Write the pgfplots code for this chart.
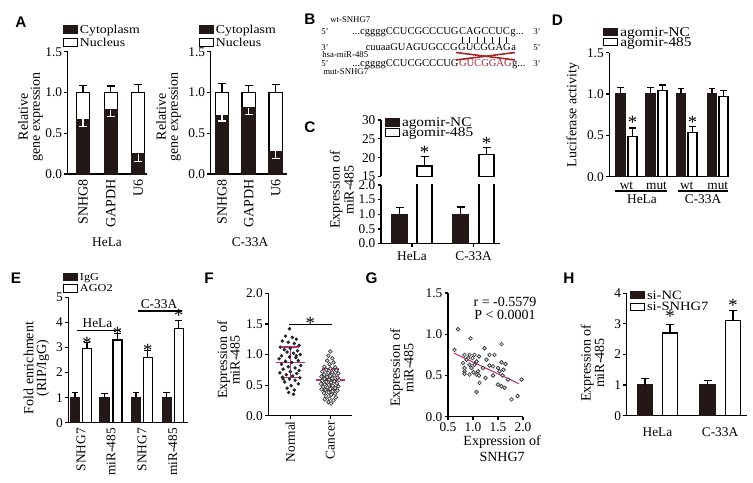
\documentclass[border=0pt]{standalone}
\usepackage{fontspec}
\setmainfont{Liberation Serif}
\newfontfamily\panelfont{Liberation Sans}
\newfontfamily\legfont[FakeStretch=1.15]{Liberation Serif}
\usepackage{pgfplots}
\pgfplotsset{compat=1.18}
\usetikzlibrary{calc}
\newcommand\sz[1]{\fontsize{#1}{#1}\selectfont}
\definecolor{barblk}{HTML}{231815}
\definecolor{mag}{HTML}{B8307A}
\definecolor{dred}{HTML}{A0282A}
\pgfplotsset{
  base/.style={
    scale only axis, enlargelimits=false, clip=false, anchor=south west,
    axis x line*=bottom, axis y line*=left,
    axis line style={line width=0.9pt, black},
    every tick/.style={line width=0.9pt, black},
    tick align=outside, major tick length=2.5pt,
    tick label style={font=\sz{10}, inner sep=1.5pt},
    /pgf/number format/assume math mode=true,
    legend cell align=left,
    legend image code/.code={\draw[line width=0.6pt,##1] (0pt,-2.75pt) rectangle (10.5pt,2.75pt); \path (12pt,0pt);},
  },
  yone/.style={yticklabel style={/pgf/number format/.cd, fixed, fixed zerofill, precision=1}},
  xone/.style={xticklabel style={/pgf/number format/.cd, fixed, fixed zerofill, precision=1}},
  leg/.style n args={5}{legend style={at={(#1,#2)}, anchor=north west, draw=none, fill=none, inner sep=0pt, outer sep=0pt, row sep=0pt, font=\legfont\sz{#3}, nodes={inner sep=0pt, outer sep=0pt, text height=#4, text depth=#5}}},
  wbar/.style={ybar, bar shift=0pt, fill=white, draw=black, line width=0.9pt},
  bbar/.style={ybar, bar shift=0pt, fill=barblk, draw=barblk, line width=0.9pt},
  ep/.style={error bars/y dir=plus, error bars/y explicit, error bars/error bar style={line width=0.9pt, black}, error bars/error mark options={line width=0.9pt, black, mark size=#1, rotate=90}},
  ep/.default=3pt,
  em/.style={error bars/y dir=minus, error bars/y explicit, error bars/error bar style={line width=0.9pt, white}, error bars/error mark options={line width=0.9pt, white, mark size=#1, rotate=90}},
  em/.default=3pt,
}
\tikzset{ast/.style={font=\sz{14}, inner sep=0pt, yshift=-3pt},
  seq/.style={font=\sz{7.9}, inner sep=0pt},
  sml/.style={font=\sz{6.6}, inner sep=0pt},
  plab/.style={font=\panelfont\bfseries\sz{11.5}}}
\begin{document}
\begin{tikzpicture}
\path[use as bounding box] (0,0) rectangle (564.75pt,361.5pt);

% ---------- A left (HeLa)
\begin{axis}[base, yone, width=59.475pt, height=91.725pt, at={(50.775pt,231pt)},
  xmin=67.7, xmax=147, ymin=0, ymax=1.5, ytick={0,0.5,1,1.5},
  xtick={83,110.7,138.3}, xticklabels={SNHG8,GAPDH,U6}, x tick style={draw=none},
  xticklabel style={rotate=90, anchor=east, font=\sz{10.5}},
  ylabel={Relative\\gene expression}, ylabel style={align=center, font=\fontsize{10.5}{9}\selectfont, at={(axis description cs:-0.469,0.466)}, anchor=center},
  xlabel={HeLa}, xlabel style={font=\sz{10}, at={(axis description cs:0.496,-0.56)}, anchor=center},
  leg={-0.0593}{1.2347}{9}{7.855pt}{1.895pt}, reverse legend, bar width=13]
\addplot[wbar, ep] coordinates {(83,1) +- (0,0.09) (110.7,1) +- (0,0.08) (138.3,1) +- (0,0.10)};
\addlegendentry{Nucleus}
\addplot[bbar, em] coordinates {(83,0.67) +- (0,0.09) (110.7,0.79) +- (0,0.08) (138.3,0.25) +- (0,0.10)};
\addlegendentry{Cytoplasm}
\end{axis}

% ---------- A right (C-33A)
\begin{axis}[base, yone, width=57pt, height=91.725pt, at={(158.025pt,231pt)},
  xmin=210.7, xmax=286.7, ymin=0, ymax=1.5, ytick={0,0.5,1,1.5},
  xtick={222,248.7,275.7}, xticklabels={SNHG8,GAPDH,U6}, x tick style={draw=none},
  xticklabel style={rotate=90, anchor=east, font=\sz{10.5}},
  ylabel={Relative\\gene expression}, ylabel style={align=center, font=\fontsize{10.5}{9}\selectfont, at={(axis description cs:-0.555,0.466)}, anchor=center},
  xlabel={C-33A}, xlabel style={font=\sz{10}, at={(axis description cs:0.517,-0.56)}, anchor=center},
  leg={-0.154}{1.2347}{9}{7.855pt}{1.895pt}, reverse legend, bar width=13.5]
\addplot[wbar, ep] coordinates {(222,1) +- (0,0.11) (248.7,1) +- (0,0.09) (275.7,1) +- (0,0.10)};
\addlegendentry{Nucleus}
\addplot[bbar, em] coordinates {(222,0.72) +- (0,0.07) (248.7,0.81) +- (0,0.08) (275.7,0.28) +- (0,0.09)};
\addlegendentry{Cytoplasm}
\end{axis}

% ---------- C upper segment
\begin{axis}[base, width=89.25pt, height=42.375pt, at={(285.75pt,229.125pt)},
  xmin=381, xmax=500, ymin=15, ymax=30, ytick={15,20,25,30}, axis x line=none,
  clip=true, clip mode=individual, bar width=15,
  leg={0.0336}{1.048}{10}{7.06pt}{0.44pt}]
\addlegendimage{bbar}\addlegendentry{agomir-NC}
\addlegendimage{wbar}\addlegendentry{agomir-485}
\addplot[wbar, ep] coordinates {(424.5,17.8) +- (0,2.6) (486.5,20.8) +- (0,2.0)};
\node[ast] at (axis cs:424.5,22.5) {*};
\node[ast] at (axis cs:486.5,24.8) {*};
\end{axis}

% ---------- C lower segment
\begin{axis}[base, yone, width=89.25pt, height=43.95pt, at={(285.75pt,178.8pt)},
  xmin=381, xmax=500, ymin=0, ymax=2, ytick={0,0.5,1,1.5,2},
  xtick={412,473.5}, xticklabels={HeLa,C-33A}, xticklabel style={yshift=-2pt},
  clip=true, clip mode=individual, bar width=15,
  ylabel={Expression of\\miR-485}, ylabel style={align=center, font=\fontsize{10.5}{10.5}\selectfont, at={(axis description cs:-0.33,0.915)}, anchor=center}]
\addplot[bbar, ep] coordinates {(399.5,1) +- (0,0.22) (460.5,1) +- (0,0.25)};
\addplot[wbar] coordinates {(424.5,17.8) (486.5,20.8)};
\end{axis}

% ---------- D
\begin{axis}[base, yone, width=89.775pt, height=93pt, at={(456.975pt,228.975pt)},
  xmin=609.3, xmax=729, ymin=0, ymax=1.5, ytick={0,0.5,1,1.5},
  xtick={626.5,656.5,686.75,717.75}, xticklabels={wt,mut,wt,mut}, x tick style={draw=none},
  bar width=9,
  ylabel={Luciferase activity}, ylabel style={font=\sz{10.5}, at={(axis description cs:-0.303,0.498)}, anchor=center},
  leg={-0.05}{1.2097}{10}{7.06pt}{0.44pt}]
\addplot[bbar, ep=2.5pt] coordinates {(620.5,1) +- (0,0.08) (650.5,1) +- (0,0.08) (681,1) +- (0,0.07) (712,1) +- (0,0.07)};
\addlegendentry{agomir-NC}
\addplot[wbar, ep=2.5pt] coordinates {(632.5,0.49) +- (0,0.10) (662.5,1.04) +- (0,0.07) (692.5,0.53) +- (0,0.08) (723.5,0.97) +- (0,0.07)};
\addlegendentry{agomir-485}
\node[ast] at (axis cs:632.5,0.71) {*};
\node[ast] at (axis cs:692.5,0.71) {*};
\end{axis}

% ---------- E
\begin{axis}[base, width=89.775pt, height=94.05pt, at={(51.225pt,44.475pt)},
  xmin=68.3, xmax=188, ymin=0, ymax=5, ytick={0,1,2,3,4,5},
  xtick={81,111,142,172.7}, xticklabels={SNHG7,miR-485,SNHG7,miR-485}, x tick style={draw=none},
  xticklabel style={rotate=90, anchor=east},
  bar width=9,
  ylabel={Fold enrichment\\(RIP/IgG)}, ylabel style={align=center, font=\fontsize{10.5}{9.5}\selectfont, at={(axis description cs:-0.266,0.436)}, anchor=center},
  leg={-0.0443}{1.211}{8}{7.04pt}{1.74pt}]
\addplot[bbar, ep=2.5pt] coordinates {(75,1) +- (0,0.2) (104.5,1) +- (0,0.15) (136,1) +- (0,0.2) (166.7,1) +- (0,0.22)};
\addlegendentry{IgG}
\addplot[wbar, ep=2.5pt] coordinates {(87,2.95) +- (0,0.25) (117.5,3.3) +- (0,0.27) (147.8,2.6) +- (0,0.27) (178.8,3.75) +- (0,0.33)};
\addlegendentry{AGO2}
\node[ast] at (axis cs:87,3.33) {*};
\node[ast] at (axis cs:117.5,3.72) {*};
\node[ast] at (axis cs:147.8,3.03) {*};
\node[ast] at (axis cs:178.8,4.43) {*};
\end{axis}

% ---------- F
\begin{axis}[base, yone, width=62.55pt, height=91.8pt, at={(201.225pt,49.725pt)},
  xmin=-0.55, xmax=1.535, ymin=0, ymax=2, ytick={0,0.5,1,1.5,2},
  xtick={0,1}, xticklabels={Normal,Cancer}, xticklabel style={rotate=90, anchor=east},
  ylabel={Expression of\\miR-485}, ylabel style={align=center, font=\fontsize{10.5}{9.5}\selectfont, at={(axis description cs:-0.477,0.455)}, anchor=center}]
\addplot[only marks, mark=*, mark size=1.1pt, black!85] coordinates {
(-0.02,1.42) (-0.12,1.30) (0.05,1.28) (0.15,1.25) (-0.20,1.22) (-0.05,1.20) (0.10,1.18) (0.22,1.15)
(-0.25,1.12) (0.00,1.10) (-0.15,1.08) (0.18,1.06) (-0.08,1.04) (0.08,1.02) (0.25,1.00) (-0.22,0.98)
(-0.02,0.96) (0.14,0.95) (-0.28,0.93) (0.20,0.90) (-0.12,0.89) (0.04,0.87) (-0.22,0.84) (0.26,0.82)
(-0.05,0.80) (0.12,0.78) (-0.18,0.76) (0.22,0.74) (0.00,0.72) (-0.26,0.70) (0.16,0.69) (-0.10,0.67)
(0.06,0.65) (-0.20,0.63) (0.24,0.62) (-0.02,0.60) (0.12,0.58) (-0.14,0.55) (0.20,0.52) (0.02,0.49)
(-0.08,0.45) (0.10,0.42) (-0.04,0.38) (0.08,0.35) (-0.18,0.60) (0.15,0.98)};
\addplot[only marks, mark=*, mark size=1.4pt, draw=black!80, fill=black!10, line width=0.45pt] coordinates {
(1.00,1.05) (0.95,0.98) (1.05,0.94) (0.92,0.90) (1.08,0.87) (0.98,0.84) (0.85,0.80) (1.12,0.79)
(1.00,0.77) (0.90,0.75) (1.15,0.74) (0.80,0.72) (1.05,0.71) (0.95,0.70) (1.20,0.69) (0.85,0.67)
(1.10,0.66) (1.00,0.65) (0.78,0.64) (0.92,0.63) (1.18,0.62) (1.05,0.61) (0.85,0.60) (0.97,0.59)
(1.22,0.58) (0.80,0.57) (1.10,0.56) (0.90,0.55) (1.02,0.54) (1.16,0.53) (0.76,0.52) (0.86,0.51)
(0.96,0.50) (1.06,0.49) (1.20,0.48) (0.82,0.47) (0.93,0.46) (1.12,0.45) (1.00,0.44) (0.78,0.43)
(0.88,0.42) (1.18,0.41) (1.06,0.40) (0.96,0.38) (0.84,0.37) (1.12,0.36) (1.02,0.34) (0.90,0.32)
(1.14,0.30) (0.98,0.28) (0.86,0.27) (1.08,0.25) (0.95,0.22) (1.02,0.20)};
\addplot[mag, line width=1.1pt] coordinates {(-0.37,0.87) (0.37,0.87)};
\addplot[mag, line width=1.1pt] coordinates {(0,0.62) (0,1.12)};
\addplot[mag, line width=1.1pt] coordinates {(-0.22,0.62) (0.22,0.62)};
\addplot[mag, line width=1.1pt] coordinates {(-0.22,1.12) (0.22,1.12)};
\addplot[mag, line width=1.1pt] coordinates {(0.63,0.58) (1.37,0.58)};
\addplot[mag, line width=1.1pt] coordinates {(1,0.42) (1,0.76)};
\addplot[mag, line width=1.1pt] coordinates {(0.78,0.42) (1.22,0.42)};
\addplot[mag, line width=1.1pt] coordinates {(0.78,0.76) (1.22,0.76)};
\draw[line width=0.8pt] (axis cs:-0.025,1.49) -- (axis cs:1.05,1.49);
\node[ast] at (axis cs:0.5,1.58) {*};
\end{axis}

% ---------- G
\begin{axis}[base, yone, xone, width=56.25pt, height=92.775pt, at={(336pt,48.975pt)},
  xmin=0.5, xmax=2, ymin=0, ymax=1.5, ytick={0,0.5,1,1.5}, xtick={0.5,1,1.5,2},
  ylabel={Expression of\\miR-485}, ylabel style={align=center, font=\fontsize{10.5}{9}\selectfont, at={(axis description cs:-0.616,0.394)}, anchor=center},
  xlabel={Expression of\\SNHG7}, xlabel style={align=center, font=\fontsize{10.5}{12.5}\selectfont, at={(axis description cs:0.722,-0.257)}, anchor=center}]
\addplot[only marks, mark=*, mark size=1.4pt, draw=black!80, fill=black!12, line width=0.5pt] coordinates {
(0.70,1.06) (0.95,0.95) (0.63,0.81) (1.23,0.83) (1.57,0.88) (0.83,0.75) (0.93,0.75) (1.03,0.75)
(1.12,0.73) (1.33,0.75) (1.43,0.75) (0.90,0.71) (0.99,0.71) (0.87,0.69) (1.07,0.67) (1.27,0.69)
(1.57,0.66) (1.65,0.64) (0.80,0.65) (1.03,0.63) (1.33,0.62) (0.83,0.59) (0.97,0.59) (1.20,0.59)
(1.50,0.59) (1.61,0.57) (0.83,0.55) (1.10,0.55) (1.53,0.55) (1.07,0.51) (0.83,0.52) (0.93,0.51)
(1.12,0.50) (1.40,0.50) (1.59,0.50) (1.01,0.54) (1.25,0.47) (1.70,0.45) (1.97,0.45) (1.13,0.41)
(1.50,0.39) (1.57,0.37) (1.63,0.35) (1.07,0.30) (1.77,0.21) (1.89,0.25) (0.93,0.63) (1.40,0.61)};
\addplot[mag, line width=0.8pt] coordinates {(0.62,0.77) (1.92,0.40)};
\node[font=\sz{10.5}] at (axis cs:1.64,1.39) {r = -0.5579};
\node[font=\sz{10.5}] at (axis cs:1.64,1.233) {P < 0.0001};
\end{axis}

% ---------- H
\begin{axis}[base, width=90pt, height=91.8pt, at={(470.025pt,49.725pt)},
  xmin=626.7, xmax=746.7, ymin=0, ymax=4, ytick={0,1,2,3,4},
  xtick={657.5,720}, xticklabels={HeLa,C-33A}, x tick style={draw=none}, xticklabel style={yshift=-5pt},
  bar width=15.5,
  ylabel={Expression of\\miR-485}, ylabel style={align=center, font=\fontsize{10.5}{10}\selectfont, at={(axis description cs:-0.285,0.43)}, anchor=center},
  leg={0.0275}{1.034}{9.5}{7.53pt}{1.24pt}]
\addplot[bbar, ep] coordinates {(645,1) +- (0,0.22) (707.5,1) +- (0,0.15)};
\addlegendentry{si-NC}
\addplot[wbar, ep] coordinates {(670,2.7) +- (0,0.27) (733,3.1) +- (0,0.35)};
\addlegendentry{si-SNHG7}
\node[ast] at (axis cs:670,3.36) {*};
\node[ast] at (axis cs:733,3.72) {*};
\end{axis}

% ---------- annotations in pixel units
\begin{scope}[x=0.75pt, y=-0.75pt, yshift=361.5pt]
\node[plab] at (21,22) {A};
\node[plab] at (310,19) {B};
\node[plab] at (310,127) {C};
\node[plab] at (557.5,20) {D};
\node[plab] at (16,278) {E};
\node[plab] at (209,278) {F};
\node[plab] at (371.5,278) {G};
\node[plab] at (569,278) {H};
% B
\node[sml, anchor=base west] at (330,23) {wt-SNHG7};
\node[sml, anchor=base west] at (321,35) {5'};
\node[seq, anchor=base west] (l1a) at (352,35) {...cggggCCUCGCCCUG};
\node[seq, anchor=base west] (l1b) at (l1a.base east) {CAGCCUC};
\node[seq, anchor=base west] (l1c) at (l1b.base east) {g...};
\node[sml, anchor=base west] at (533,35) {3'};
\node[seq, anchor=base] (l2b) at (l1b.base |- 0,51) {GUCGGAG};
\node[seq, anchor=base east] (l2a) at (l2b.base west) {cuuaaGUAGUGCCG};
\node[seq, anchor=base west] (l2c) at (l2b.base east) {a};
\node[sml, anchor=base west] at (321,51) {3'};
\node[sml, anchor=base west] at (533,51) {5'};
\node[sml, anchor=base west] at (322,58) {hsa-miR-485};
\node[sml, anchor=base west] at (321,67) {5'};
\node[seq, anchor=base west] (l3a) at (352,67) {...cggggCCUCGCCCUG};
\node[seq, anchor=base west, text=dred] (l3b) at (l3a.base east) {GUCGGAG};
\node[seq, anchor=base west] (l3c) at (l3b.base east) {g...};
\node[sml, anchor=base west] at (533,67) {3'};
\node[sml, anchor=base west] at (323,75) {mut-SNHG7};
\foreach \i in {0,...,6}{
  \path ($(l1b.base west)!{(\i+0.5)/7}!(l1b.base east)$) coordinate (t\i);
  \draw[line width=0.5pt] (t\i |- 0,37.5) -- (t\i |- 0,43.5);
}
\draw[dred, line width=1.2pt] ($(l2b.base west |- 0,52.5)+(-2,0)$) -- ($(l2b.base east |- 0,60)+(4,0)$);
\draw[dred, line width=1.2pt] ($(l2b.base west |- 0,60)+(-2,0)$) -- ($(l2b.base east |- 0,52.5)+(4,0)$);
% D group labels
\draw[line width=0.9pt] (615,191) -- (667,191);
\draw[line width=0.9pt] (678,191) -- (728,191);
\node[font=\sz{10}] at (642,199) {HeLa};
\node[font=\sz{10}] at (703,199) {C-33A};
% E group labels
\node[font=\sz{10}] at (97.5,323) {HeLa};
\draw[line width=0.9pt] (77,330.5) -- (120,330.5);
\node[font=\sz{10}] at (159,304) {C-33A};
\draw[line width=0.9pt] (138,311) -- (182,311);
\end{scope}
\end{tikzpicture}
\end{document}
